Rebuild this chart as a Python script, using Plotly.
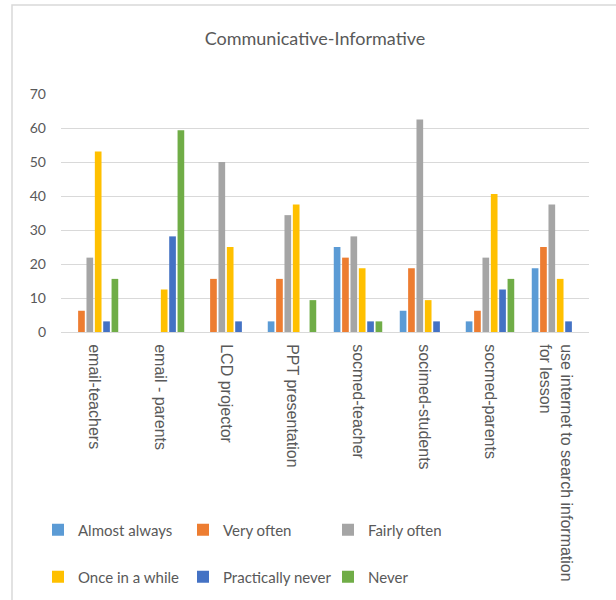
import plotly.graph_objects as go

# Usage categories (x axis)
categories = [
    "email-teachers",
    "email - parents",
    "LCD projector",
    "PPT presentation",
    "socmed-teacher",
    "socimed-students",
    "socmed-parents",
    "use internet to search information<br>for lesson",
]

# Percentage of respondents per frequency level
almost_always = [0, 0, 0, 3.125, 25, 6.25, 3.125, 18.75]
very_often = [6.25, 0, 15.625, 15.625, 21.875, 18.75, 6.25, 25]
fairly_often = [21.875, 0, 50, 34.375, 28.125, 62.5, 21.875, 37.5]
once_in_a_while = [53.125, 12.5, 25, 37.5, 18.75, 9.375, 40.625, 15.625]
practically_never = [3.125, 28.125, 3.125, 0, 3.125, 3.125, 12.5, 3.125]
never = [15.625, 59.375, 0, 9.375, 3.125, 0, 15.625, 0]

y_ticks = [0, 10, 20, 30, 40, 50, 60, 70]

series = [
    ("Almost always", almost_always, "#5B9BD5", "legend"),
    ("Very often", very_often, "#ED7D31", "legend"),
    ("Fairly often", fairly_often, "#A5A5A5", "legend"),
    ("Once in a while", once_in_a_while, "#FFC000", "legend2"),
    ("Practically never", practically_never, "#4472C4", "legend2"),
    ("Never", never, "#70AD47", "legend2"),
]

fig = go.Figure()
for name, vals, color, leg in series:
    fig.add_trace(go.Bar(
        name=name, x=categories, y=vals,
        marker=dict(color=color, line=dict(width=0)),
        legend=leg,
    ))

W, H = 616, 600
L, R, T, B = 61, 27, 94, 268
pw, ph = W - L - R, H - T - B

text_grey = "#595959"
grid_grey = "#D9D9D9"

legend_common = dict(
    orientation="h",
    xref="container", yref="container",
    xanchor="left", yanchor="middle",
    x=38 / W,
    entrywidth=100, entrywidthmode="pixels",
    font=dict(family="Lato", size=15, color=text_grey),
    bgcolor="rgba(0,0,0,0)",
    traceorder="normal",
)

fig.update_layout(
    width=W, height=H,
    margin=dict(l=L, r=R, t=T, b=B, pad=0, autoexpand=False),
    paper_bgcolor="white", plot_bgcolor="white",
    barmode="group", bargap=0.24, bargroupgap=0.2,
    title=dict(
        text="Communicative-Informative",
        x=315 / W, xref="container", xanchor="center",
        y=1 - 39 / H, yref="container", yanchor="middle",
        font=dict(family="Lato", size=18, color=text_grey),
    ),
    legend=dict(legend_common, y=1 - 530 / H),
    legend2=dict(legend_common, y=1 - 577 / H),
    xaxis=dict(
        tickangle=90,
        tickfont=dict(family="Liberation Sans", size=16, color=text_grey),
        showline=True, linecolor=grid_grey, linewidth=1,
        ticks="", ticklabelstandoff=8,
        showgrid=False, automargin=False,
    ),
    yaxis=dict(
        range=[0, 70], tickvals=y_ticks,
        tickfont=dict(family="Lato", size=14, color=text_grey),
        gridcolor=grid_grey, gridwidth=1,
        zeroline=True, zerolinecolor=grid_grey, zerolinewidth=1,
        showline=False, ticks="", ticklabelstandoff=14,
        automargin=False,
    ),
    shapes=[dict(
        type="rect", xref="paper", yref="paper",
        x0=(12 - L) / pw, x1=(W + 4 - L) / pw,
        y0=(T + ph - (H + 4)) / ph, y1=(T + ph - 5) / ph,
        line=dict(color=grid_grey, width=1.5),
        fillcolor="rgba(0,0,0,0)", layer="below",
    )],
)

fig.write_html("out.html")
